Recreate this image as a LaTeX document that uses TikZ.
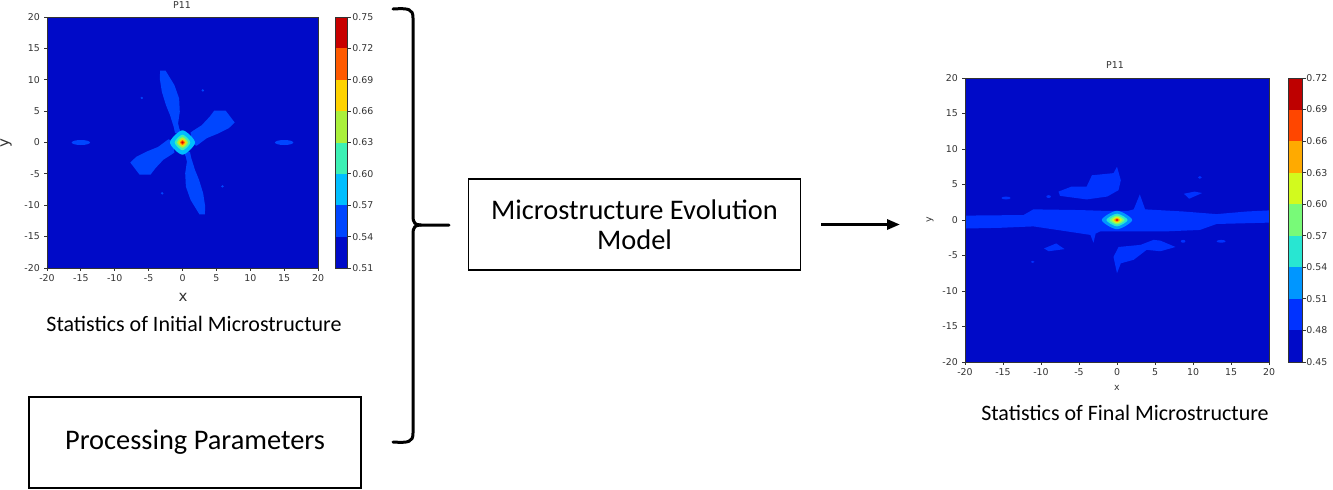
\documentclass[tikz,border=0pt]{standalone}
\usepackage{fontspec}
\setmainfont{Carlito}
\newfontfamily\plotfont{DejaVu Sans}
\usetikzlibrary{arrows.meta}

% contour levels, initial plot (bottom to top)
\definecolor{iniA}{RGB}{0,10,200}
\definecolor{iniB}{RGB}{0,70,255}
\definecolor{iniC}{RGB}{0,190,255}
\definecolor{iniD}{RGB}{60,240,180}
\definecolor{iniE}{RGB}{170,240,60}
\definecolor{iniF}{RGB}{255,210,0}
\definecolor{iniG}{RGB}{255,90,0}
\definecolor{iniH}{RGB}{200,0,0}
% contour levels, final plot (bottom to top)
\definecolor{finA}{RGB}{0,10,200}
\definecolor{finB}{RGB}{0,50,255}
\definecolor{finC}{RGB}{0,150,255}
\definecolor{finD}{RGB}{40,230,210}
\definecolor{finE}{RGB}{120,250,120}
\definecolor{finF}{RGB}{210,250,30}
\definecolor{finG}{RGB}{255,170,0}
\definecolor{finH}{RGB}{255,70,0}
\definecolor{finI}{RGB}{190,0,0}

\begin{document}
\begin{tikzpicture}[x=0.5pt, y=-0.5pt,
  box/.style={draw, line width=0.8pt, align=center, inner sep=0pt,
    minimum width=166pt, minimum height=45.5pt, font=\fontsize{14.2}{15}\selectfont},
  caption/.style={font=\fontsize{11}{12}\selectfont, inner sep=0pt},
  tick/.style={font=\plotfont\fontsize{4.7}{5}\selectfont, text=black!80, inner sep=0pt},
  axlabel/.style={font=\plotfont\fontsize{7.5}{8}\selectfont, text=black!80, inner sep=0pt},
  frame/.style={draw=black!80, line width=0.4pt},
  brace/.style={line width=1.5pt, line cap=round},
  flow/.style={line width=1.5pt, -{Triangle[length=6.5pt, width=5pt]}}]
\useasboundingbox (0,0) rectangle (1333,489);

% initial microstructure statistics
\begin{scope}[shift={(182.5,142.5)}, xscale=6.775, yscale=-6.275]
  \fill[iniA] (-20,-20) rectangle (20,20);
  \foreach \r in {0,180} {
    \fill[iniB, rotate=\r] (-1.1,1.5) -- (-1.3,2.5) -- (-1.85,4.38) -- (-2.45,5.98) -- (-3.05,8.1)
      -- (-3.35,10.2) -- (-3.3,11.45) -- (-2.5,11.45) -- (-1.2,9.16) -- (-0.5,7.04)
      -- (-0.4,4.9) -- (-0.65,3.06) -- (-0.5,2.3) -- (-0.2,1.5) -- cycle;
    \fill[iniB, rotate=\r] (1.2,1.6) -- (1.6,1.9) -- (2.83,2.75) -- (4.0,4.1) -- (4.7,5.1)
      -- (6.35,5.1) -- (7.7,3.2) -- (6.85,2.3) -- (5.3,1.45) -- (3.6,0.7) -- (2.1,-0.5)
      -- (1.4,-0.3) -- cycle;
    \fill[iniB, rotate=\r] (15,0) ellipse [x radius=1.35, y radius=0.4];
  }
  \foreach \p in {(-6,7.1),(3,8.3),(-3,-8.1),(5.9,-7)}
    \fill[iniB] \p circle [radius=0.2];
  \foreach \a/\b/\c in {1.85/1.95/iniC,1.15/1.25/iniD,0.8/0.85/iniE,0.55/0.58/iniF,0.35/0.37/iniG,0.18/0.19/iniH}
    \fill[\c] plot[smooth cycle] coordinates {(\a,0) (0,\b) (-\a,0) (0,-\b)};
  \draw[frame] (-20,-20) rectangle (20,20);
  \foreach \v in {-20,-15,...,20} {
    \draw[frame] (\v,-20) -- (\v,-20.5);
    \node[tick, below] at (\v,-21) {\v};
    \draw[frame] (-20,\v) -- (-20.5,\v);
    \node[tick, left] at (-21,\v) {\v};
  }
\end{scope}
\node[tick] (initle) at (182,5) {P11};
\node[axlabel] (inix) at (183,297) {x};
\node[axlabel, rotate=90] (iniy) at (6,143) {y};
\foreach \c [count=\i from 0] in {iniA,iniB,iniC,iniD,iniE,iniF,iniG,iniH}
  \fill[\c] (335,{268-\i*31.375}) rectangle (347,{268-(\i+1)*31.375});
\draw[frame] (335,17) rectangle (347,268);
\foreach \t [count=\i from 0] in {0.51,0.54,0.57,0.60,0.63,0.66,0.69,0.72,0.75} {
  \draw[frame] (347,{268-\i*31.375}) -- ++(3.5,0);
  \node[tick, right] at (352,{268-\i*31.375}) {\t};
}
\node[caption] (inicap) at (194,324) {Statistics of Initial Microstructure};

% final microstructure statistics
\begin{scope}[shift={(1117,220)}, xscale=7.6, yscale=-7.1]
  \fill[finA] (-20,-20) rectangle (20,20);
  \fill[finB] (-20,0.62) -- (-12.3,0.7) -- (-11,1.5) -- (-4.9,1.4) -- (-2,1.3) -- (1.5,1.3)
    -- (2.2,1.5) -- (3.0,3.6) -- (3.7,1.5) -- (8.7,1.2) -- (13.1,0.83) -- (17.1,1.2) -- (20,1.35)
    -- (20,-0.37) -- (13.1,-0.56) -- (10.9,-1.4) -- (6.5,-1.6) -- (-2.2,-1.6) -- (-2.8,-1.9)
    -- (-3.1,-3.2) -- (-3.5,-2.1) -- (-6.6,-1.6) -- (-11,-0.9) -- (-15.4,-1.1) -- (-20,-1.2) -- cycle;
  \fill[finB] (-7.7,4.0) -- (-6.0,4.7) -- (-4.0,4.7) -- (-3.3,6.3) -- (-0.46,6.6) -- (0,7.5)
    -- (0.5,5.6) -- (0.2,4.2) -- (-1.3,3.3) -- (-4.0,2.9) -- (-7.5,3.4) -- cycle;
  \fill[finB] (7.7,-3.8) -- (5.7,-2.9) -- (4.8,-2.8) -- (3.1,-3.5) -- (0.2,-3.8) -- (-0.46,-5.2)
    -- (0,-7.5) -- (0.5,-6.1) -- (2.2,-5.6) -- (3.9,-4.2) -- (5.7,-4.4) -- cycle;
  \fill[finB] (8.8,3.7) -- (10.2,4.0) -- (11.2,3.8) -- (9.5,3.0) -- cycle;
  \fill[finB] (-9.6,-4.0) -- (-8.0,-3.3) -- (-6.9,-4.1) -- (-9.0,-4.4) -- cycle;
  \foreach \p/\a/\b in {(-14.6,3.1)/0.6/0.2,(-9,3.3)/0.3/0.2,(10.9,6)/0.25/0.2,
                        (13.7,-3)/0.6/0.2,(8.7,-3)/0.3/0.2,(-11.1,-5.9)/0.25/0.15}
    \fill[finB] \p ellipse [x radius=\a, y radius=\b];
  \foreach \a/\b/\c in {2.0/1.3/finC,1.4/0.9/finD,1.0/0.65/finE,0.65/0.45/finF,
                        0.4/0.3/finG,0.25/0.18/finH,0.12/0.1/finI}
    \fill[\c] plot[smooth cycle] coordinates {(\a,0) (0,\b) (-\a,0) (0,-\b)};
  \draw[frame] (-20,-20) rectangle (20,20);
  \foreach \v in {-20,-15,...,20} {
    \draw[frame] (\v,-20) -- (\v,-20.45);
    \node[tick, below] at (\v,-20.85) {\v};
    \draw[frame] (-20,\v) -- (-20.45,\v);
    \node[tick, left] at (-20.9,\v) {\v};
  }
\end{scope}
\node[tick] (fintle) at (1115,65) {P11};
\node[tick] (finx) at (1117,388) {x};
\node[tick, rotate=90] (finy) at (930,220) {y};
\foreach \c [count=\i from 0] in {finA,finB,finC,finD,finE,finF,finG,finH,finI}
  \fill[\c] (1288,{362-\i*31.556}) rectangle (1302,{362-(\i+1)*31.556});
\draw[frame] (1288,78) rectangle (1302,362);
\foreach \t [count=\i from 0] in {0.45,0.48,0.51,0.54,0.57,0.60,0.63,0.66,0.69,0.72} {
  \draw[frame] (1302,{362-\i*31.556}) -- ++(3.5,0);
  \node[tick, right] at (1306,{362-\i*31.556}) {\t};
}
\node[caption] (fincap) at (1125,413) {Statistics of Final Microstructure};

% boxes, brace and arrow
\node[box] (params) at (195,442.5) {Processing Parameters};
\node[box] (model) at (634.5,224.5) {Microstructure Evolution\\Model};
\coordinate (bracetip) at (449,225);
\coordinate (arrowend) at (900,224.5);
\draw[brace] (393,9) .. controls (409,8) and (413,9) .. (413,18) -- (413,216)
  .. controls (413,223) and (415,225) .. (421,225) -- (bracetip);
\draw[brace] (393,442) .. controls (409,443) and (413,442) .. (413,433) -- (413,234)
  .. controls (413,227) and (415,225) .. (421,225);
\draw[flow, shorten <=10pt] (model.east) -- (arrowend);
\end{tikzpicture}
\end{document}
